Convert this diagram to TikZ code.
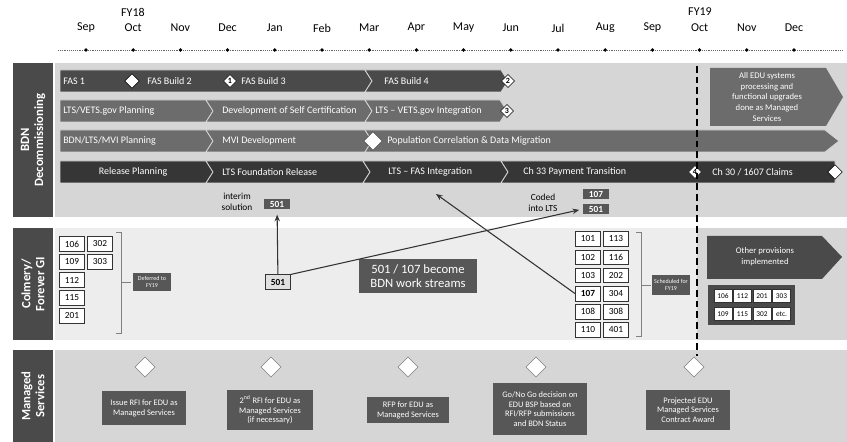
\documentclass[tikz,border=0pt]{standalone}
\usepackage{fontspec}
\setmainfont{Carlito}
\usetikzlibrary{arrows.meta,positioning,shapes.geometric}

\definecolor{bggray}{HTML}{D6D6D6}
\definecolor{bglight}{HTML}{EDEDED}
\definecolor{lblgray}{HTML}{4A4A4A}
\definecolor{rowdark}{HTML}{4A4A4A}
\definecolor{rowmid}{HTML}{6C6C6C}
\definecolor{rowdeep}{HTML}{363636}
\definecolor{boxgray}{HTML}{575757}

% chevron bar piece: [style]{x from}{x to}{y}{notch}{tip}
\newcommand{\barseg}[6][]{%
  \fill[#1] (#2,#4-11) -- (#3,#4-11) -- (#3+#6,#4) -- (#3,#4+11) -- (#2,#4+11) -- (#2+#5,#4) -- cycle;}

\tikzset{
  lbl/.style={fill=lblgray, text=white, rotate=90, align=center, inner sep=1pt,
    font=\fontsize{9.5}{10.5}\selectfont\bfseries},
  month/.style={font=\fontsize{9}{10}\selectfont},
  bartxt/.style={anchor=west, text=white, inner sep=0pt, font=\fontsize{7.5}{8}\selectfont},
  seg/.style={draw=bggray, line width=0.6pt},
  numdia/.style={diamond, draw=black, fill=white, inner sep=0pt, minimum size=10pt,
    font=\fontsize{6}{6}\selectfont\bfseries},
  opendia/.style={diamond, draw=gray, fill=white, inner sep=0pt, minimum size=#1},
  opendia/.default=10pt,
  darkbox/.style={fill=boxgray, text=white, align=center, inner sep=2pt},
  gridbox/.style={draw=black!80, fill=white, minimum width=19pt, minimum height=11pt,
    inner sep=0pt, font=\fontsize{7}{8}\selectfont},
  minibox/.style={draw=black!80, fill=white, minimum width=13.5pt, minimum height=10pt,
    inner sep=0pt, font=\fontsize{5.5}{6}\selectfont},
  msbox/.style={darkbox, font=\fontsize{6.3}{7.3}\selectfont},
  note/.style={align=center, font=\fontsize{7}{8}\selectfont},
  link/.style={->, draw=black!80, line width=0.8pt}
}

\begin{document}
\begin{tikzpicture}[x=0.75pt,y=-0.75pt,>={Stealth[length=5pt,width=4pt]}]
\useasboundingbox (0,0) rectangle (847,442);

% section backgrounds
\fill[bggray] (55,63) rectangle (847,217);
\fill[bggray] (55,228) rectangle (847,340);
\fill[bglight] (55,228) rectangle (697,340);
\fill[bggray] (55,350) rectangle (847,442);

% section labels
\node[lbl, minimum width=115.5pt, minimum height=30pt] (bdnlbl) at (33,140) {BDN\\Decommissioning};
\node[lbl, minimum width=84pt, minimum height=30pt] (collbl) at (33,284) {Colmery/\\Forever GI};
\node[lbl, minimum width=69pt, minimum height=30pt] (mslbl) at (33,396) {Managed\\Services};

% timeline
\draw[densely dotted, black!60] (58,50) -- (843,50);
\foreach \m [count=\i from 0] in {Sep,Oct,Nov,Dec,Jan,Feb,Mar,Apr,May,Jun,Jul,Aug,Sep,Oct,Nov,Dec} {
  \node[month] (m\i) at (86+47.2*\i,28) {\m};
  \fill (86+47.2*\i,50) circle (1.4pt);
}
\node[month] (fy18) at (133,12) {FY18};
\node[month] (fy19) at (700,12) {FY19};

% BDN rows
\barseg[rowdark, seg]{60}{365}{81}{0}{7}
\barseg[rowdark, seg]{365}{501}{81}{7}{7}
\node[bartxt] (fas1) at (63,81) {FAS 1};
\node[bartxt] (fas2) at (147,81) {FAS Build 2};
\node[bartxt] (fas3) at (241,81) {FAS Build 3};
\node[bartxt] (fas4) at (384,81) {FAS Build 4};
\node[opendia=11pt, draw=black] (d0) at (132,81) {};
\node[numdia] (d1) at (230,81) {1};
\node[numdia] (d2) at (508,81) {2};

\barseg[rowmid, seg]{60}{206}{111}{0}{7}
\barseg[rowmid, seg]{206}{365}{111}{7}{7}
\barseg[rowmid, seg]{365}{500}{111}{7}{7}
\node[bartxt] (vplan) at (63,111) {LTS/VETS.gov Planning};
\node[bartxt] (selfc) at (222,111) {Development of Self Certification};
\node[bartxt] (vint) at (375,111) {LTS – VETS.gov Integration};
\node[numdia] (d3) at (507,111) {3};

\barseg[rowmid, seg]{60}{206}{141}{0}{7}
\barseg[rowmid, seg]{206}{365}{141}{7}{7}
\barseg[rowmid, seg]{365}{825}{141}{7}{14}
\node[bartxt] (mplan) at (63,141) {BDN/LTS/MVI Planning};
\node[bartxt] (mvi) at (222,141) {MVI Development};
\node[bartxt] (popc) at (387,141) {Population Correlation \& Data Migration};
\node[opendia=14pt, draw=black!70] (d5) at (373,141) {};

\barseg[rowdeep, seg]{60}{206}{172}{0}{7}
\barseg[rowdeep, seg]{206}{363}{172}{7}{7}
\barseg[rowdeep, seg]{363}{501}{172}{7}{7}
\barseg[rowdeep, seg]{501}{835}{172}{7}{0}
\node[bartxt, anchor=center] (rplan) at (133,172) {Release Planning};
\node[bartxt] (found) at (222,172) {LTS Foundation Release};
\node[bartxt] (fasint) at (388,172) {LTS – FAS Integration};
\node[bartxt] (ch33) at (523,172) {Ch 33 Payment Transition};
\node[bartxt] (ch30) at (712,172) {Ch 30 / 1607 Claims};
\node[numdia] (d4) at (695,172) {4};
\node[opendia=11pt, draw=black] (d6) at (835,172) {};

% all EDU systems
\fill[rowmid] (710,68) -- (826,68) -- (843,97) -- (826,126) -- (710,126) -- cycle;
\node[note, text=white, font=\fontsize{6.5}{8}\selectfont] (alledu) at (767,97)
  {All EDU systems\\processing and\\functional upgrades\\done as Managed\\Services};

% FY19 divider
\draw[dashed, dash pattern=on 5pt off 3pt, line width=1.2pt] (697,66) -- (697,356);

% interim and coded
\node[note] (interim) at (237,202) {interim\\solution};
\node[darkbox, font=\fontsize{7}{8}\selectfont\bfseries, minimum width=20pt, inner sep=1.5pt] (i501) at (277,204) {501};
\node[note] (coded) at (543,203) {Coded\\into LTS};
\node[darkbox, font=\fontsize{7}{8}\selectfont\bfseries, minimum width=19pt, inner sep=1.5pt] (k107) at (596,194) {107};
\node[darkbox, font=\fontsize{7}{8}\selectfont\bfseries, minimum width=19pt, inner sep=1.5pt] (k501) at (596,209) {501};

% Colmery deferred
\foreach \v [count=\r from 0] in {106,109,112,115,201}
  \node[gridbox] (c\v) at (72,244+18*\r) {\v};
\foreach \v [count=\r from 0] in {302,303}
  \node[gridbox] (c\v) at (100,244+18*\r) {\v};
\draw[black!50] (116,232) -- (121,232) -- (121,333) -- (116,333);
\draw[black!50] (121,282) -- (131,282);
\node[darkbox, font=\fontsize{4.5}{5}\selectfont, minimum width=29pt, minimum height=14pt, inner sep=1pt] (defer) at (152,282) {Deferred to\\FY19};

% Colmery scheduled
\foreach \a/\b [count=\r from 0] in {101/113,102/116,103/202,107/304,108/308,110/401} {
  \node[gridbox] (g\a) at (588,239+18.2*\r) {\ifnum\a=107 \bfseries\fi\a};
  \node[gridbox] (g\b) at (616,239+18.2*\r) {\b};
}
\draw[black!50] (636,232) -- (641,232) -- (641,336) -- (636,336);
\draw[black!50] (641,285) -- (651,285);
\node[darkbox, font=\fontsize{4.5}{5}\selectfont, minimum width=29pt, minimum height=15pt, inner sep=1pt] (sched) at (671,285) {Scheduled for\\FY19};

% 501 / 107 streams
\node[gridbox, fill=black!12, font=\fontsize{7}{8}\selectfont\bfseries] (c501) at (278,282) {501};
\node[darkbox, font=\fontsize{9.5}{11}\selectfont, minimum width=89pt, minimum height=26pt] (streams) at (418,276) {501 / 107 become\\BDN work streams};
\coordinate (lfi) at (436,194);
\draw[link, shorten >=4pt] (c501) -- (i501);
\draw[link, shorten >=3pt] (c501.north east) -- (k501.west);
\draw[link] (g107.west) -- (lfi);

% other provisions
\fill[rowdark] (707,236) -- (822,236) -- (842,257) -- (822,279) -- (707,279) -- cycle;
\node[note, text=white, font=\fontsize{6.5}{8}\selectfont] (other) at (765,257) {Other provisions\\implemented};
\fill[rowdark] (708,285) rectangle (795,325);
\foreach \a/\b [count=\c from 0] in {106/109,112/115,201/302,303/etc.} {
  \node[minibox] (oa\c) at (723+19.5*\c,296) {\a};
  \node[minibox] (ob\c) at (723+19.5*\c,314) {\b};
}

% managed services
\foreach \x [count=\i] in {145,271,408,536,694}
  \node[opendia=15pt] (ms\i) at (\x,367) {};
\node[msbox, minimum width=63pt, minimum height=25pt] (rfi) at (144,408) {Issue RFI for EDU as\\Managed Services};
\node[msbox, minimum width=64pt, minimum height=30pt] (rfi2) at (270,410) {2\textsuperscript{nd} RFI for EDU as\\Managed Services\\(if necessary)};
\node[msbox, minimum width=61pt, minimum height=20pt] (rfp) at (408,410) {RFP for EDU as\\Managed Services};
\node[msbox, minimum width=70pt, minimum height=39pt] (gonogo) at (540,409) {Go/No Go decision on\\EDU BSP based on\\RFI/RFP submissions\\and BDN Status};
\node[msbox, minimum width=63pt, minimum height=30pt] (award) at (688,410) {Projected EDU\\Managed Services\\Contract Award};

\end{tikzpicture}
\end{document}
